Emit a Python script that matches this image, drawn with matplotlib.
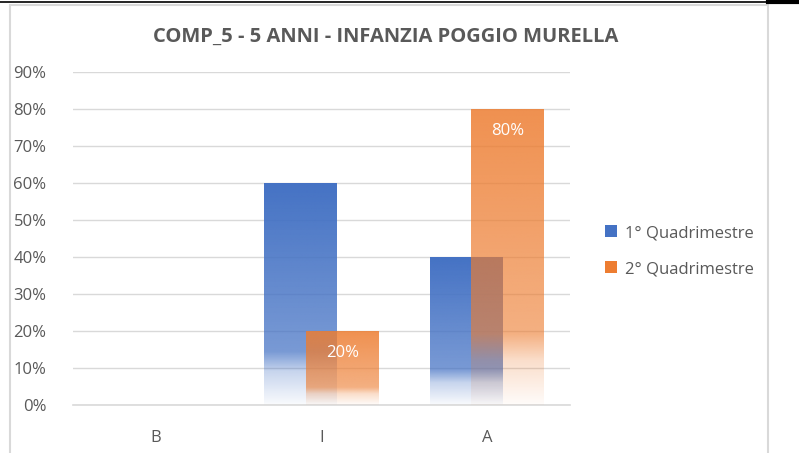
import numpy as np
import matplotlib.pyplot as plt
from matplotlib.patches import Rectangle, Patch
from matplotlib.lines import Line2D
from matplotlib.colors import to_rgb
from matplotlib.ticker import PercentFormatter

title = "COMP_5 - 5 ANNI - INFANZIA POGGIO MURELLA"
categories = ["B", "I", "A"]
series_names = ["1° Quadrimestre", "2° Quadrimestre"]
q1 = [0.0, 0.60, 0.40]
q2 = [0.0, 0.20, 0.80]
colors = ["#4472C4", "#ED7D31"]
top_alpha = [1.0, 0.85]
show_labels = [False, True]

plt.rcParams['font.family'] = ['Open Sans', 'DejaVu Sans']
grey = "#595959"

fig = plt.figure(figsize=(7.99, 4.53), dpi=100)
W, H = 799, 453

# page line and chart frame
fig.add_artist(Line2D([0, 768 / W], [1 - 2 / H, 1 - 2 / H], color="black", lw=1.2, transform=fig.transFigure))
fig.add_artist(Line2D([768 / W, 1], [1 - 1.5 / H, 1 - 1.5 / H], color="black", lw=3, transform=fig.transFigure))
fig.add_artist(Rectangle((10 / W, -0.05), 758 / W, 1.05 - 5 / H, fill=False,
                         edgecolor="#D9D9D9", lw=1.5, transform=fig.transFigure))

ax = fig.add_axes([73 / W, 48 / H, (570 - 73) / W, (405 - 72) / H])

width = 0.44
offsets = [-0.125, 0.125]


def alpha_profile(n, amax):
    t = np.linspace(0, 1, n)
    return np.interp(t, [0, 0.15, 0.24, 1], [0.03, 0.3, 0.72, 1.0]) * amax


for k, vals in enumerate([q1, q2]):
    rgb = to_rgb(colors[k])
    for i, v in enumerate(vals):
        if v <= 0:
            continue
        x0 = i + offsets[k] - width / 2
        img = np.zeros((256, 1, 4))
        img[:, 0, :3] = rgb
        img[:, 0, 3] = alpha_profile(256, top_alpha[k])
        ax.imshow(img, extent=(x0, x0 + width, 0, v), origin="lower",
                  aspect="auto", interpolation="bilinear", zorder=2 + k)
        if show_labels[k]:
            ax.annotate(f"{v:.0%}", (i + offsets[k], v), xytext=(0, -16),
                        textcoords="offset points", ha="center", va="center",
                        color="white", fontsize=12, zorder=5)

ax.set_xlim(-0.5, 2.5)
ax.set_ylim(0, 0.9)
ax.set_yticks(np.arange(0, 0.91, 0.1))
ax.yaxis.set_major_formatter(PercentFormatter(1.0, decimals=0))
ax.set_xticks(range(len(categories)))
ax.set_xticklabels(categories)
ax.grid(axis="y", color="#D9D9D9", lw=1)
ax.set_axisbelow(True)
for s in ["top", "right", "left"]:
    ax.spines[s].set_visible(False)
ax.spines["bottom"].set_color("#D9D9D9")
ax.spines["bottom"].set_linewidth(1.2)
ax.tick_params(axis="both", length=0, colors=grey, labelsize=12)
ax.tick_params(axis="y", pad=19)
ax.tick_params(axis="x", pad=18)

fig.text(386 / W, 1 - 37 / H, title, ha="center", va="center",
         fontsize=14.5, fontweight="bold", color=grey)

handles = [Patch(facecolor=c, edgecolor="none") for c in colors]
fig.legend(handles, series_names, loc="center left", bbox_to_anchor=(590 / W, 1 - 251 / H),
           frameon=False, fontsize=12, labelcolor=grey, handlelength=0.7,
           handleheight=0.7, handletextpad=0.5, labelspacing=1.2)

fig.savefig("out.png", dpi=100)
